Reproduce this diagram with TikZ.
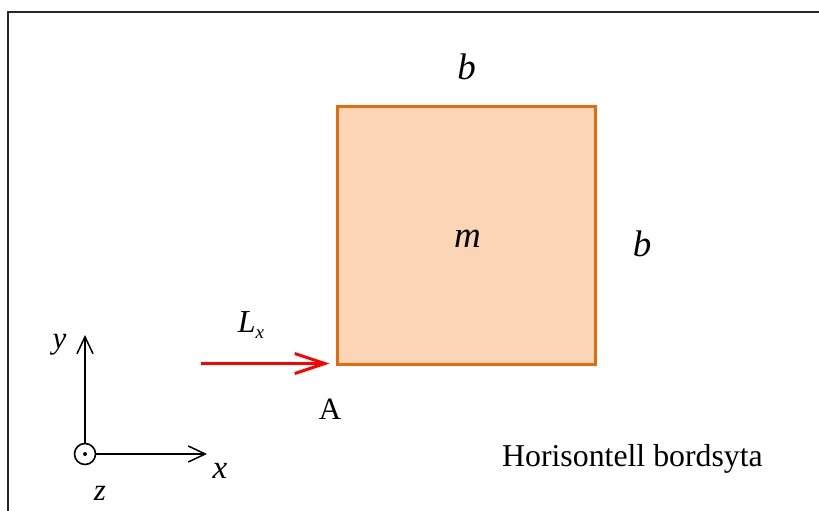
\documentclass[tikz,border=0pt]{standalone}
\usepackage{fontspec}
\setmainfont{Liberation Serif}
\usetikzlibrary{arrows.meta}
\definecolor{peach}{HTML}{FBD5B5}
\definecolor{orangeedge}{HTML}{E46C0A}
\begin{document}
\begin{tikzpicture}[x=1pt,y=-1pt,
  frameline/.style={line width=2pt,black!85},
  massbox/.style={draw=orangeedge,fill=peach,line width=3pt,minimum width=258pt,minimum height=257.5pt,inner sep=0pt},
  biglab/.style={font=\fontsize{37}{40}\selectfont\itshape,inner sep=0pt,anchor=base},
  lab/.style={font=\fontsize{31}{34}\selectfont,inner sep=0pt,anchor=base},
  itlab/.style={font=\fontsize{31}{34}\selectfont\itshape,inner sep=0pt,anchor=base},
  axis/.style={line width=1.5pt,black,-{Straight Barb[length=17pt,width=16pt,line width=1.5pt]}},
  force/.style={line width=3pt,red,-{Straight Barb[length=30pt,width=20pt,line width=3pt]}}]
\useasboundingbox (0,0) rectangle (819,511);
% frame
\draw[frameline] (8.3,511) -- (8.3,12) -- (819,12);
% mass
\node[massbox] (sq) at (466,235.25) {};
\node[biglab] (m) at (467.5,247.5) {m};
\node[biglab] (btop) at (466.7,79) {b};
\node[biglab] (bright) at (642,256) {b};
% force
\coordinate (fstart) at (201,363.5);
\draw[force] (fstart) -- ([xshift=-6pt]fstart -| sq.west);
\node[itlab,font=\fontsize{32}{34}\selectfont\itshape] (L) at (251,332) {L\raisebox{-6pt}{\fontsize{19}{20}\selectfont x}};
\node[lab] (A) at (330,419) {A};
% axes
\node[draw,circle,line width=1.6pt,minimum size=21pt,inner sep=0pt] (o) at (85,454) {};
\fill (o.center) circle (2pt);
\coordinate (yend) at (85,335);
\coordinate (xend) at (207,454);
\draw[axis] (o.north) -- (yend);
\draw[axis] (o.east) -- (xend);
\node[itlab] (ylab) at (59.5,348.5) {y};
\node[itlab,font=\fontsize{33}{34}\selectfont\itshape] (xlab) at (220,478) {x};
\node[itlab] (zlab) at (100,500) {z};
% caption
\node[lab,font=\fontsize{31.8}{34}\selectfont,anchor=base west] (cap) at (502,466.7) {Horisontell bordsyta};
\end{tikzpicture}
\end{document}
